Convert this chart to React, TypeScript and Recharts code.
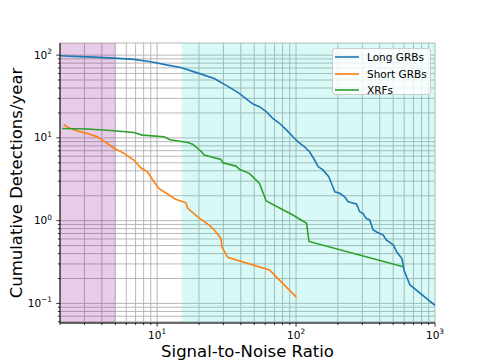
import React from 'react';
import {
  LineChart,
  Line,
  XAxis,
  YAxis,
  CartesianGrid,
  ReferenceArea,
  Legend,
} from 'recharts';

// values (log-log)
const LONG_SNR = [2, 2.52, 3.51, 4.9, 6.8, 9.0, 11.9, 14.8, 19.5, 25.8, 33, 39, 45, 49, 54.5, 61, 68, 76, 83, 95, 103, 115, 125, 136, 144, 156, 172, 184, 190, 206, 224, 237, 272, 287, 304, 318, 339, 359, 380, 424, 448, 501, 530, 576, 591, 598, 660, 1000];
const LONG_RATE = [98, 96.5, 94.6, 92, 88.7, 83, 75.7, 71, 61, 52, 41, 34.5, 28.6, 25.6, 23.8, 20.7, 17.2, 15.0, 13.0, 10.3, 9.0, 7.8, 6.8, 5.4, 4.5, 4.1, 3.39, 2.57, 2.23, 2.14, 1.94, 1.69, 1.59, 1.28, 1.22, 1.07, 1.02, 0.77, 0.73, 0.67, 0.58, 0.51, 0.42, 0.35, 0.29, 0.253, 0.167, 0.095];

const SHORT_SNR = [2.13, 2.32, 2.66, 3.14, 3.71, 4.38, 4.9, 5.78, 6.8, 7.63, 8.51, 9.5, 10.3, 12.2, 13.6, 16.1, 16.6, 20.1, 23.7, 25.8, 28.8, 29.3, 32.2, 64.4, 70, 100];
const SHORT_RATE = [14.5, 13.2, 12.1, 11.3, 10.3, 8.6, 7.5, 6.5, 5.4, 4.35, 3.9, 2.95, 2.45, 2.04, 1.81, 1.64, 1.41, 1.07, 0.885, 0.77, 0.61, 0.48, 0.36, 0.253, 0.22, 0.12];

const XRF_SNR = [2.07, 3.14, 4.9, 6.8, 7.83, 11.2, 12.4, 16.6, 18.0, 20.7, 21.8, 28.8, 29.7, 37, 39.1, 46.1, 54.5, 61, 94.8, 119, 124, 591];
const XRF_RATE = [13.0, 12.8, 12.2, 11.6, 10.8, 10.3, 9.5, 8.8, 8.4, 6.9, 6.2, 5.5, 5.0, 4.56, 4.17, 3.73, 2.82, 1.73, 1.17, 0.93, 0.56, 0.277];

const X_TICKS = [2, 3, 4, 5, 6, 7, 8, 9, 10, 20, 30, 40, 50, 60, 70, 80, 90, 100, 200, 300, 400, 500, 600, 700, 800, 900, 1000];
const Y_TICKS = [0.06, 0.07, 0.08, 0.09, 0.1, 0.2, 0.3, 0.4, 0.5, 0.6, 0.7, 0.8, 0.9, 1, 2, 3, 4, 5, 6, 7, 8, 9, 10, 20, 30, 40, 50, 60, 70, 80, 90, 100];

const X_DOMAIN = [2, 1000];
const Y_DOMAIN = [0.058, 140];

const LOW_SNR_BAND = [2, 5];
const HIGH_SNR_BAND = [15, 1000];

const SERIES = [
  { name: 'Long GRBs', color: '#1f77b4', snr: LONG_SNR, rate: LONG_RATE },
  { name: 'Short GRBs', color: '#ff7f0e', snr: SHORT_SNR, rate: SHORT_RATE },
  { name: 'XRFs', color: '#2ca02c', snr: XRF_SNR, rate: XRF_RATE },
];

const FONT = "'DejaVu Sans', sans-serif";

function decade(v: number) {
  const e = Math.log10(v);
  const r = Math.round(e);
  return Math.abs(e - r) < 1e-9 ? r : null;
}

function expLabel(e: number) {
  return e < 0 ? '\u2212' + Math.abs(e) : String(e);
}

function XTick({ x, y, payload }: any) {
  const e = decade(payload.value);
  return (
    <g>
      <line x1={x} x2={x} y1={y} y2={y + (e !== null ? 3.7 : 2.1)} stroke="#000" strokeWidth={0.8} />
      {e !== null && (
        <text x={x} y={y + 15.5} textAnchor="middle" fontSize={10.5} fontFamily={FONT} fill="#000">
          10<tspan dy={-4.5} fontSize={7.4}>{expLabel(e)}</tspan>
        </text>
      )}
    </g>
  );
}

function YTick({ x, y, payload }: any) {
  const e = decade(payload.value);
  return (
    <g>
      <line x1={x} x2={x - (e !== null ? 3.7 : 2.1)} y1={y} y2={y} stroke="#000" strokeWidth={0.8} />
      {e !== null && (
        <text x={x - 8} y={y + 3.5} textAnchor="end" fontSize={10.5} fontFamily={FONT} fill="#000">
          10<tspan dy={-4.5} fontSize={7.4}>{expLabel(e)}</tspan>
        </text>
      )}
    </g>
  );
}

function LegendBox() {
  return (
    <div
      style={{
        boxSizing: 'border-box',
        width: 99,
        height: 47,
        border: '1px solid #cccccc',
        borderRadius: 3,
        background: 'rgba(255,255,255,0.8)',
        fontFamily: FONT,
        fontSize: 10.5,
        color: '#000',
      }}
    >
      {SERIES.map((s) => (
        <div key={s.name} style={{ display: 'flex', alignItems: 'center', height: 16.5, paddingLeft: 2 }}>
          <svg width={24} height={4} style={{ marginRight: 8 }}>
            <line x1={0} x2={24} y1={2} y2={2} stroke={s.color} strokeWidth={1.6} />
          </svg>
          <span>{s.name}</span>
        </div>
      ))}
    </div>
  );
}

export default function App() {
  const lines = SERIES.map((s) => ({
    ...s,
    data: s.snr.map((v, i) => ({ snr: v, rate: s.rate[i] })),
  }));

  return (
    <div style={{ position: 'absolute', left: 0, top: 0, width: 484, height: 363, background: '#fff' }}>
      <LineChart width={484} height={363} margin={{ top: 43, right: 49, bottom: 0, left: 0 }}>
        <ReferenceArea x1={LOW_SNR_BAND[0]} x2={LOW_SNR_BAND[1]} fill="#800080" fillOpacity={0.2} stroke="none" />
        <ReferenceArea x1={HIGH_SNR_BAND[0]} x2={HIGH_SNR_BAND[1]} fill="#40e0d0" fillOpacity={0.2} stroke="none" />
        <CartesianGrid stroke="#b0b0b0" strokeWidth={0.9} />
        <XAxis
          dataKey="snr"
          type="number"
          scale="log"
          domain={X_DOMAIN}
          allowDataOverflow
          ticks={X_TICKS}
          interval={0}
          height={40}
          tickSize={0}
          tickMargin={0}
          tickLine={false}
          tick={<XTick />}
          axisLine={{ stroke: '#000', strokeWidth: 1 }}
          label={({ viewBox }: any) => (
            <text
              x={viewBox.x + viewBox.width / 2}
              y={viewBox.y + 34}
              textAnchor="middle"
              fontSize={16.5}
              fontFamily={FONT}
              fill="#000"
            >
              Signal-to-Noise Ratio
            </text>
          )}
        />
        <XAxis
          xAxisId="top"
          orientation="top"
          type="number"
          scale="log"
          domain={X_DOMAIN}
          allowDataOverflow
          height={0}
          tick={false}
          tickLine={false}
          axisLine={{ stroke: '#000', strokeWidth: 1 }}
        />
        <YAxis
          type="number"
          scale="log"
          domain={Y_DOMAIN}
          allowDataOverflow
          ticks={Y_TICKS}
          interval={0}
          width={60}
          tickSize={0}
          tickMargin={0}
          tickLine={false}
          tick={<YTick />}
          axisLine={{ stroke: '#000', strokeWidth: 1 }}
          label={({ viewBox }: any) => (
            <text
              x={21.5}
              y={viewBox.y + viewBox.height / 2}
              transform={`rotate(-90 21.5 ${viewBox.y + viewBox.height / 2})`}
              textAnchor="middle"
              fontSize={16.5}
              fontFamily={FONT}
              fill="#000"
            >
              Cumulative Detections/year
            </text>
          )}
        />
        <YAxis
          yAxisId="right"
          orientation="right"
          type="number"
          scale="log"
          domain={Y_DOMAIN}
          allowDataOverflow
          width={0}
          tick={false}
          tickLine={false}
          axisLine={{ stroke: '#000', strokeWidth: 1 }}
        />
        {lines.map((s) => (
          <Line
            key={s.name}
            name={s.name}
            data={s.data}
            dataKey="rate"
            type="linear"
            stroke={s.color}
            strokeWidth={1.6}
            dot={false}
            isAnimationActive={false}
          />
        ))}
        <Legend
          layout="horizontal"
          verticalAlign="middle"
          align="center"
          content={<LegendBox />}
          wrapperStyle={{ left: 332, top: 48, width: 99, height: 47 }}
        />
      </LineChart>
    </div>
  );
}
